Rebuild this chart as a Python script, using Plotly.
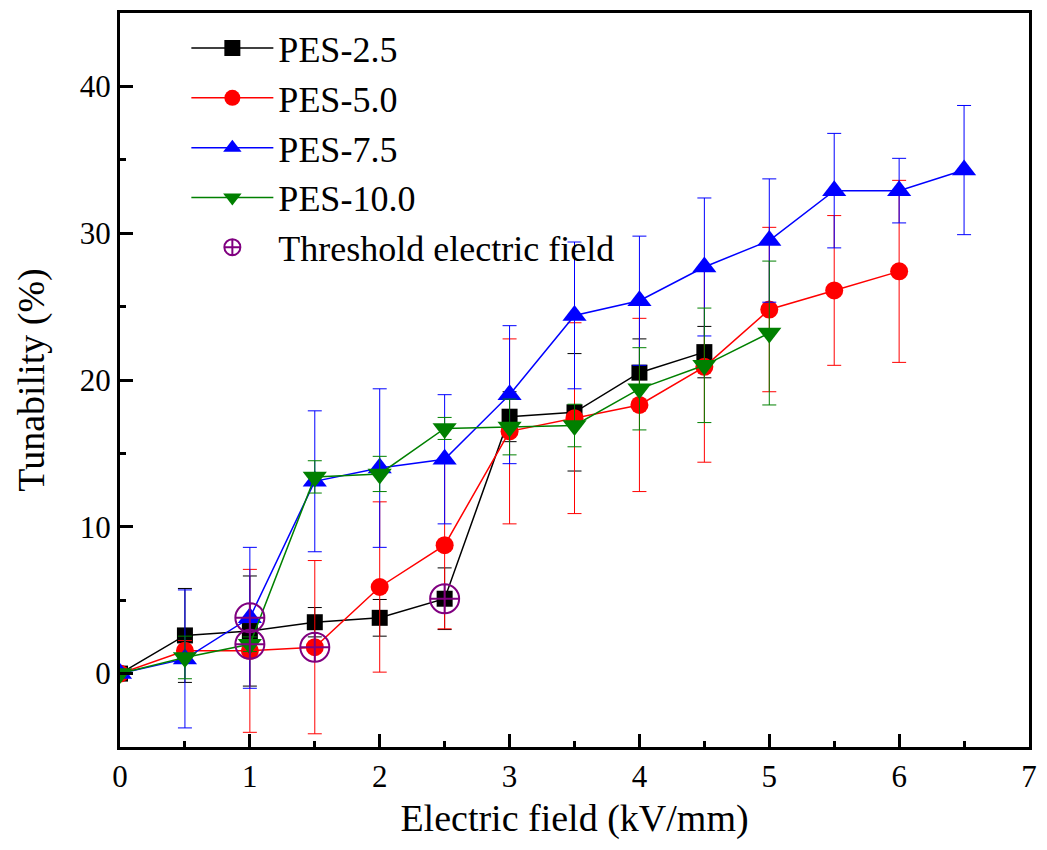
import plotly.graph_objects as go

# ---------------- data ----------------
x_25 = [0, 0.5, 1, 1.5, 2, 2.5, 3, 3.5, 4, 4.5]
y_25 = [0, 2.6, 2.9, 3.5, 3.8, 5.1, 17.5, 17.8, 20.5, 21.9]
e_25 = [0, 3.2, 3.75, 1.0, 1.25, 2.1, 1.7, 4.0, 2.3, 1.75]

x_50 = [0, 0.5, 1, 1.5, 2, 2.5, 3, 3.5, 4, 4.5, 5, 5.5, 6]
y_50 = [0, 1.55, 1.55, 1.8, 5.9, 8.75, 16.5, 17.4, 18.3, 20.9, 24.8, 26.1, 27.4]
e_50 = [0, 0.7, 5.55, 5.9, 5.8, 5.7, 6.3, 6.5, 5.9, 6.5, 5.6, 5.1, 6.2]

x_75 = [0, 0.5, 1, 1.5, 2, 2.5, 3, 3.5, 4, 4.5, 5, 5.5, 6, 6.5]
y_75 = [0, 1.0, 3.8, 13.1, 14.0, 14.6, 19.0, 24.4, 25.4, 27.7, 29.5, 32.9, 32.9, 34.3]
e_75 = [0, 4.7, 4.8, 4.8, 5.4, 4.4, 4.7, 5.0, 4.4, 4.7, 4.2, 3.9, 2.2, 4.4]

x_100 = [0, 0.5, 1, 1.5, 2, 2.5, 3, 3.5, 4, 4.5, 5]
y_100 = [0, 1.1, 2.0, 13.4, 13.6, 16.7, 16.8, 16.9, 19.4, 21.0, 23.2]
e_100 = [0, 1.45, 0.5, 1.1, 1.2, 0.75, 1.9, 1.45, 2.8, 3.9, 4.9]

x_thr = [1, 1, 1.5, 2.5]
y_thr = [3.8, 2.0, 1.8, 5.1]

x_ticks = [0, 1, 2, 3, 4, 5, 6, 7]
y_ticks = [0, 10, 20, 30, 40]

FONT = "Liberation Serif, Times New Roman, serif"

series = [
    ("PES-2.5", x_25, y_25, e_25, "#000000", "square", 16),
    ("PES-5.0", x_50, y_50, e_50, "#ff0000", "circle", 18),
    ("PES-7.5", x_75, y_75, e_75, "#0000ff", "triangle-up", 21),
    ("PES-10.0", x_100, y_100, e_100, "#008000", "triangle-down", 21),
]

fig = go.Figure()
for name, xs, ys, es, col, sym, sz in series:
    fig.add_trace(go.Scatter(
        x=xs, y=ys, name=name, mode="lines+markers",
        line=dict(color=col, width=1.5),
        marker=dict(symbol=sym, size=sz, color=col, line=dict(width=0)),
        error_y=dict(type="data", array=es, visible=True, color=col,
                     thickness=1, width=7),
    ))

fig.add_trace(go.Scatter(
    x=x_thr, y=y_thr, name="Threshold electric field", mode="markers",
    marker=dict(symbol="circle-cross-open", size=29, color="#800080",
                line=dict(width=2, color="#800080")),
))

axis_common = dict(
    showline=True, linecolor="black", linewidth=3, mirror=True,
    ticks="inside", ticklen=13, tickwidth=3, tickcolor="black",
    showgrid=False, zeroline=False,
    tickfont=dict(family=FONT, size=31, color="black"),
)

fig.update_xaxes(
    range=[0, 7], tickvals=x_ticks,
    minor=dict(ticks="inside", ticklen=6, tickwidth=3, tickcolor="black", dtick=0.5, showgrid=False),
    title=dict(text="Electric field (kV/mm)", font=dict(family=FONT, size=38, color="black"), standoff=12),
    **axis_common,
)
fig.update_yaxes(
    range=[-5, 45], tickvals=y_ticks,
    minor=dict(ticks="inside", ticklen=6, tickwidth=3, tickcolor="black", dtick=5, showgrid=False),
    title=dict(text="Tunability (%)", font=dict(family=FONT, size=38, color="black"), standoff=24),
    **axis_common,
)

fig.update_layout(
    width=1047, height=850,
    margin=dict(l=120, r=13, t=10, b=103),
    plot_bgcolor="white", paper_bgcolor="white",
    font=dict(family=FONT, color="black"),
    legend=dict(
        x=0.073, y=0.993, xanchor="left", yanchor="top",
        bgcolor="rgba(0,0,0,0)", borderwidth=0,
        font=dict(family=FONT, size=36, color="black"),
        itemwidth=82, tracegroupgap=0,
    ),
)

fig.write_html("out.html")
